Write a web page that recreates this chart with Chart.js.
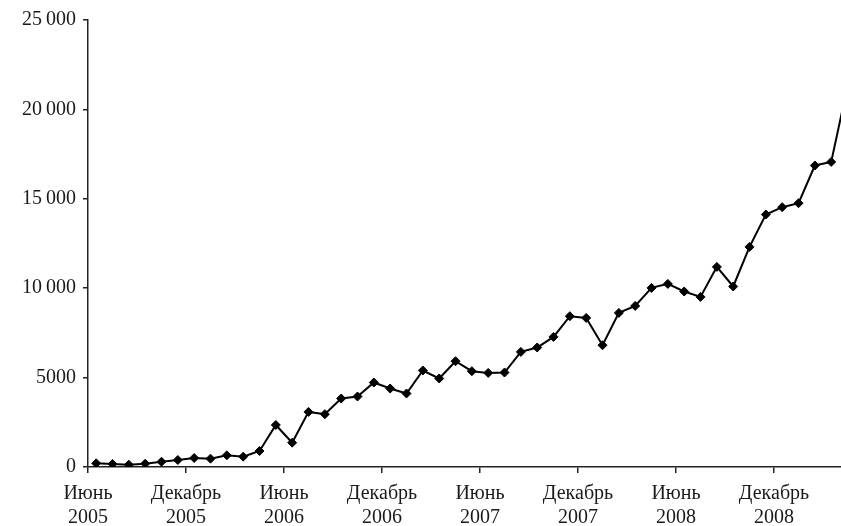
<!DOCTYPE html>
<html>
<head>
<meta charset="utf-8">
<script src="https://cdn.jsdelivr.net/npm/chart.js@4/dist/chart.umd.min.js"></script>
<style>
html,body{margin:0;padding:0;background:#fff;}
#wrap{width:841px;height:526px;position:relative;}
</style>
</head>
<body>
<div id="wrap"><canvas id="c"></canvas></div>
<script>
// Monthly categories (June 2005 .. April 2009)
const months = [
  'Июнь 2005','Июль 2005','Август 2005','Сентябрь 2005','Октябрь 2005','Ноябрь 2005',
  'Декабрь 2005','Январь 2006','Февраль 2006','Март 2006','Апрель 2006','Май 2006',
  'Июнь 2006','Июль 2006','Август 2006','Сентябрь 2006','Октябрь 2006','Ноябрь 2006',
  'Декабрь 2006','Январь 2007','Февраль 2007','Март 2007','Апрель 2007','Май 2007',
  'Июнь 2007','Июль 2007','Август 2007','Сентябрь 2007','Октябрь 2007','Ноябрь 2007',
  'Декабрь 2007','Январь 2008','Февраль 2008','Март 2008','Апрель 2008','Май 2008',
  'Июнь 2008','Июль 2008','Август 2008','Сентябрь 2008','Октябрь 2008','Ноябрь 2008',
  'Декабрь 2008','Январь 2009','Февраль 2009','Март 2009','Апрель 2009'
];
const values = [
  207, 168, 130, 185, 296, 391,
  503, 466, 652, 578, 895, 2349,
  1361, 3082, 2953, 3831, 3943, 4726,
  4390, 4111, 5397, 4950, 5917, 5358,
  5263, 5285, 6438, 6684, 7277, 8434,
  8339, 6812, 8619, 9010, 10017, 10241,
  9816, 9514, 11192, 10095, 12310, 14122,
  14531, 14755, 16863, 17064, 21300
];
const xTickLabels = [
  ['Июнь','2005'],['Декабрь','2005'],['Июнь','2006'],['Декабрь','2006'],
  ['Июнь','2007'],['Декабрь','2007'],['Июнь','2008'],['Декабрь','2008']
];
const yTickLabels = ['0','5000','10\u2009000','15\u2009000','20\u2009000','25\u2009000'];

const points = values.map((v, i) => ({x: i, y: v}));
const FONT = {family: '"Liberation Serif", "DejaVu Serif", serif', size: 20, lineHeight: 1.2};

new Chart(document.getElementById('c'), {
  type: 'line',
  data: {
    datasets: [{
      label: 'values',
      data: points,
      borderColor: '#000',
      backgroundColor: '#000',
      borderWidth: 2,
      pointStyle: 'rectRot',
      pointRadius: 4.5,
      pointBorderWidth: 1,
      pointBackgroundColor: '#000',
      pointBorderColor: '#000',
      tension: 0,
      fill: false
    }]
  },
  options: {
    responsive: true,
    maintainAspectRatio: false,
    animation: false,
    layout: {autoPadding: false, padding: {top: 20, right: 0, left: 0, bottom: 0}},
    plugins: {legend: {display: false}, tooltip: {enabled: false}},
    scales: {
      x: {
        type: 'linear',
        min: -0.5,
        max: 45.6,
        afterBuildTicks: (s) => { s.ticks = xTickLabels.map((_, k) => ({value: -0.5 + 6 * k})); },
        afterFit: (s) => { s.height = 59; },
        grid: {drawOnChartArea: false, drawTicks: true, tickLength: 6, color: '#222', lineWidth: 1.5},
        border: {display: true, color: '#222', width: 1.5},
        ticks: {
          autoSkip: false, maxRotation: 0, minRotation: 0, padding: 9,
          color: '#1a1a1a', font: FONT,
          callback: (v, i) => xTickLabels[i]
        }
      },
      y: {
        type: 'linear',
        min: 0,
        max: 25000,
        afterBuildTicks: (s) => { s.ticks = yTickLabels.map((_, k) => ({value: 5000 * k})); },
        afterFit: (s) => { s.width = 88; },
        grid: {drawOnChartArea: false, drawTicks: true, tickLength: 5, color: '#222', lineWidth: 1.5},
        border: {display: true, color: '#222', width: 1.5},
        ticks: {
          padding: 7, color: '#1a1a1a', font: FONT,
          callback: (v, i) => yTickLabels[i]
        }
      }
    }
  }
});
</script>
</body>
</html>
